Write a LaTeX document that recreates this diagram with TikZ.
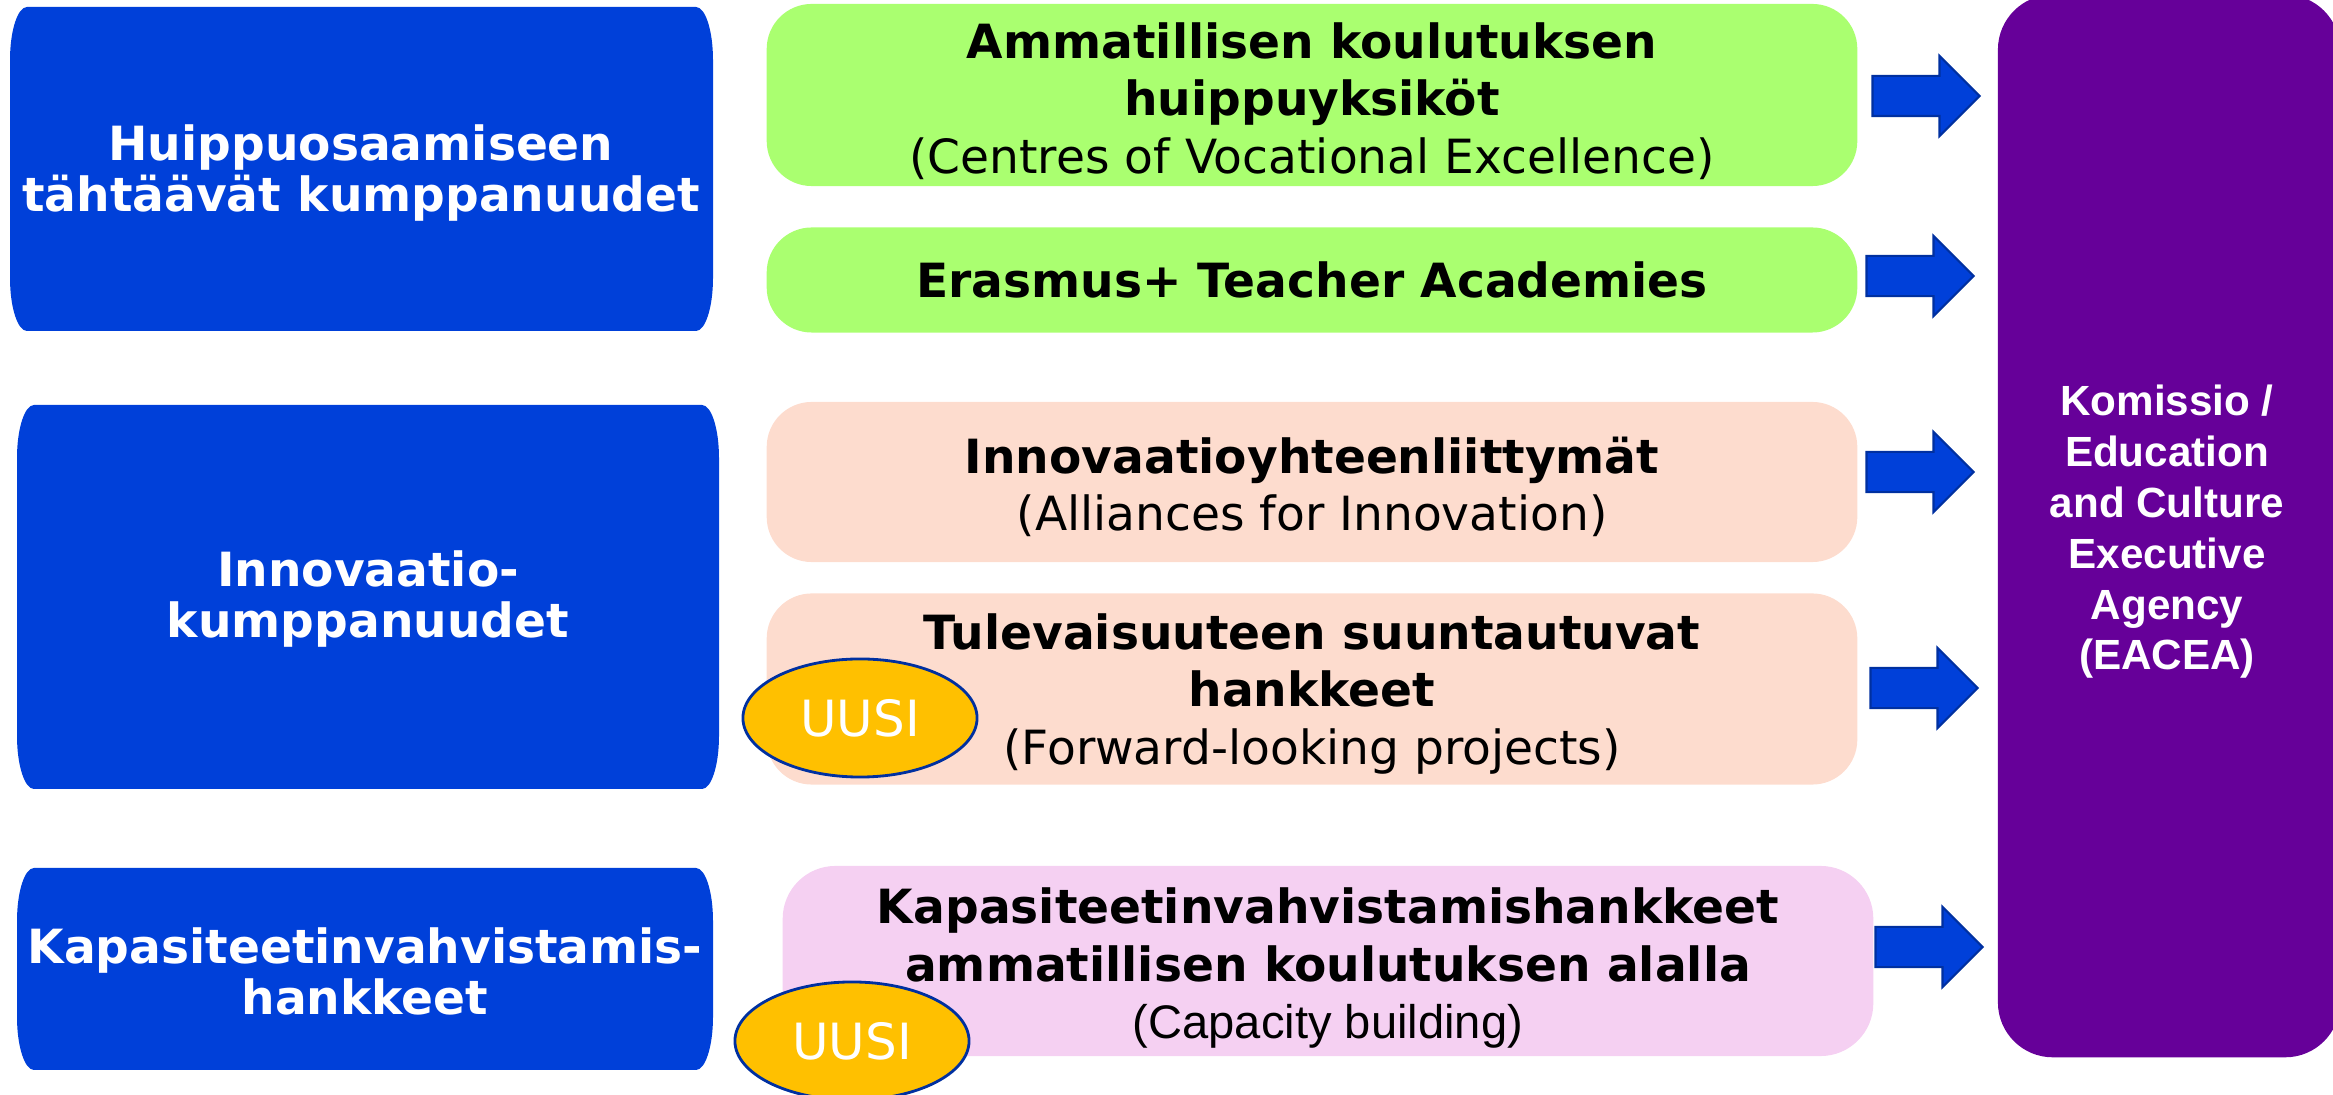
\documentclass[tikz,border=0pt]{standalone}
\usepackage{fontspec}
\setmainfont{DejaVu Sans}
\newfontfamily\arialfont{Liberation Sans}
\usepackage{tikz}
\usetikzlibrary{shapes, shapes.geometric, shapes.arrows, positioning}
\definecolor{hubblue}{RGB}{0,64,217}
\definecolor{edgeblue}{RGB}{0,48,160}
\definecolor{cvegreen}{RGB}{170,255,112}
\definecolor{peach}{RGB}{253,220,206}
\definecolor{lilac}{RGB}{245,208,242}
\definecolor{eaceapurple}{RGB}{102,0,153}
\definecolor{gold}{RGB}{255,192,0}
\tikzset{
    action/.style = {rectangle, rounded corners=12.8pt, minimum width=10.9cm}, % the boxes in the middle column
    actiontext/.style = {align=center, text=black, font=\fontsize{13.4}{16.4}\selectfont},
    hub/.style = {align=center, text=white, font=\fontsize{13.4}{14.5}\selectfont\bfseries}, % text of the blue boxes
    badge/.style = {ellipse, fill=gold, draw=edgeblue, line width=0.8pt, minimum width=2.34cm, minimum height=1.18cm,
                    inner sep=0pt, text=white, font=\fontsize{14.2}{16}\selectfont},
    flow/.style = {single arrow, fill=hubblue, draw=edgeblue, line width=0.6pt, minimum height=1.07cm,
                   inner sep=0.19cm, single arrow head extend=0.2cm}
}
% blue box with tall oval corners: left, top, right, bottom
\newcommand{\hubfill}[4]{%
    \fill[hubblue] (#1+17,#2) -- (#3-17,#2) .. controls (#3-7.6,#2) and (#3,#2+23.7) .. (#3,#2+53)
        -- (#3,#4-53) .. controls (#3,#4-23.7) and (#3-7.6,#4) .. (#3-17,#4)
        -- (#1+17,#4) .. controls (#1+7.6,#4) and (#1,#4-23.7) .. (#1,#4-53)
        -- (#1,#2+53) .. controls (#1,#2+23.7) and (#1+7.6,#2) .. cycle;}
\begin{document}
\begin{tikzpicture}[x=0.01cm, y=-0.01cm]
    \useasboundingbox (0,0) rectangle (2333,1095);
    % left column
    \hubfill{10}{7}{713}{331}
    \hubfill{17}{405}{719}{789}
    \hubfill{17}{868}{713}{1070}
    \node[hub] (h1) at (361,173) {Huippuosaamiseen\\tähtäävät kumppanuudet};
    \node[hub] (h2) at (368,599) {Innovaatio-\\kumppanuudet};
    \node[hub] (h3) at (365,971) {Kapasiteetinvahvistamis-\\hankkeet};
    % middle column
    \node[action, fill=cvegreen, minimum height=1.82cm] (cove) at (1312,95) {};
    \node[action, fill=cvegreen, minimum height=1.05cm] (academy) at (1312,280) {};
    \node[action, fill=peach, minimum height=1.60cm] (alliance) at (1312,482) {};
    \node[action, fill=peach, minimum height=1.91cm] (forward) at (1312,689) {};
    \node[action, fill=lilac, rounded corners=15pt, minimum height=1.90cm] (capacity) at (1328,961) {};
    \node[actiontext] (cove text) at (1312,101)
        {\textbf{Ammatillisen koulutuksen}\\\textbf{huippuyksiköt}\\(Centres of Vocational Excellence)};
    \node[actiontext] (academy text) at (1312,280) {\textbf{Erasmus+ Teacher Academies}};
    \node[actiontext] (alliance text) at (1312,487)
        {\textbf{Innovaatioyhteenliittymät}\\(Alliances for Innovation)};
    \node[actiontext] (forward text) at (1312,694)
        {\textbf{Tulevaisuuteen suuntautuvat}\\\textbf{hankkeet}\\(Forward-looking projects)};
    \node[actiontext] (capacity text) at (1328,968)
        {\textbf{Kapasiteetinvahvistamishankkeet}\\\textbf{ammatillisen koulutuksen alalla}\\{\arialfont (Capacity building)}};
    \node[badge] (new1) at (860,718) {UUSI};
    \node[badge] (new2) at (852,1041) {UUSI};
    % right column
    \node[rectangle, fill=eaceapurple, rounded corners=15.6pt, minimum width=3.42cm, minimum height=10.62cm] (eacea) at (2169,526) {};
    \node[align=center, text=white, font=\arialfont\fontsize{12}{14.45}\selectfont\bfseries] (eacea text) at (2167,532)
        {Komissio /\\Education\\and Culture\\Executive\\Agency\\(EACEA)};
    \node[flow] (f1) at (1916,96) {};
    \node[flow] (f2) at (1910,276) {};
    \node[flow] (f3) at (1910,472) {};
    \node[flow] (f4) at (1914,688) {};
    \node[flow] (f5) at (1919,947) {};
\end{tikzpicture}
\end{document}
